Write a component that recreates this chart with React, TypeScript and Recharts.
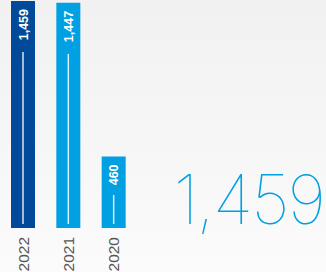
import { BarChart, Bar, XAxis, YAxis, Cell, LabelList } from "recharts"

document.body.style.margin = "0"

const YEARS = ["2022", "2021", "2020"]
const VALUES = [1459, 1447, 460]
const BAR_COLORS = ["#004a99", "#00a0e3", "#00a0e3"]
const HEADLINE = "1,459"

const data = YEARS.map((y, i) => ({ year: y, value: VALUES[i] }))

const fmt = (v: number) => v.toLocaleString("en-US")

const YearTick = ({ x, y, payload }: any) => (
  <text
    x={x + 6}
    y={y + 1}
    transform={`rotate(-90 ${x + 6} ${y + 1})`}
    textAnchor="end"
    fill="#555"
    fontSize={15.5}
    fontFamily="'Liberation Sans Narrow', 'Liberation Sans', Arial, sans-serif"
  >
    {payload.value}
  </text>
)

const ValueMark = (props: any) => {
  const { x, y, width, height, value } = props
  const cx = x + width / 2
  const label = fmt(value)
  const textEnd = y + 8
  const textLen = label.length * 6.2
  const lineTop = textEnd + textLen + 12
  const lineBottom = y + height - 4
  return (
    <g>
      <text
        x={cx + 4.5}
        y={textEnd}
        transform={`rotate(-90 ${cx + 4.5} ${textEnd})`}
        textAnchor="end"
        fill="#fff"
        fontSize={12.5}
        fontWeight="bold"
        fontFamily="'Liberation Sans', Arial, sans-serif"
      >
        {label}
      </text>
      <line x1={cx} x2={cx} y1={lineTop} y2={lineBottom} stroke="#fff" strokeWidth={1.5} strokeOpacity={0.85} />
    </g>
  )
}

export default function App() {
  return (
    <div
      style={{
        position: "relative",
        width: 326,
        height: 272,
        overflow: "hidden",
        background: "linear-gradient(#f1f1f1, #fbfbfb)",
      }}
    >
      <BarChart
        width={136}
        height={272}
        data={data}
        margin={{ top: 1, right: 0, bottom: 0, left: 0 }}
        barSize={24}
      >
        <XAxis dataKey="year" axisLine={false} tickLine={false} tick={<YearTick />} interval={0} height={44} />
        <YAxis hide domain={[0, 1459]} />
        <Bar dataKey="value" isAnimationActive={false}>
          {data.map((d, i) => (
            <Cell key={d.year} fill={BAR_COLORS[i]} />
          ))}
          <LabelList dataKey="value" content={<ValueMark />} />
        </Bar>
      </BarChart>
      <div
        style={{
          position: "absolute",
          right: 2,
          top: 154,
          fontFamily: "Inter, 'Open Sans', sans-serif",
          fontWeight: 100,
          fontSize: 68,
          letterSpacing: -2,
          color: "#00a0e3",
          lineHeight: "90px",
        }}
      >
        {HEADLINE}
      </div>
    </div>
  )
}
